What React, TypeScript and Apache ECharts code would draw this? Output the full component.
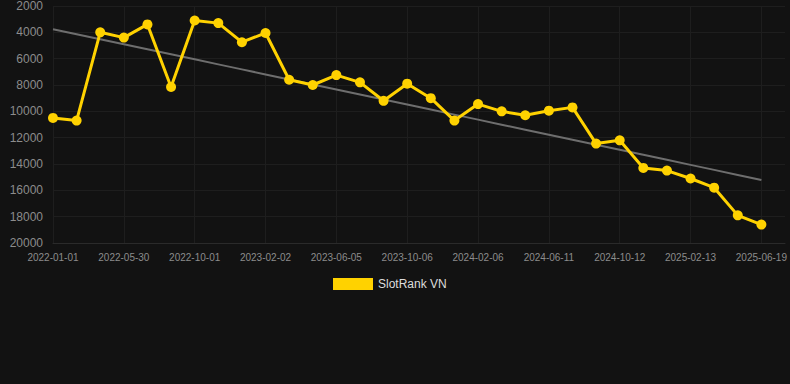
import React, { useEffect, useRef } from "react";
import * as echarts from "echarts";

const categories: string[] = [
  "2022-01-01", "2022-02-19", "2022-04-10", "2022-05-30", "2022-07-11", "2022-08-21",
  "2022-10-01", "2022-11-11", "2022-12-23", "2023-02-02", "2023-03-15", "2023-04-25",
  "2023-06-05", "2023-07-16", "2023-08-26", "2023-10-06", "2023-11-16", "2023-12-27",
  "2024-02-06", "2024-03-18", "2024-04-30", "2024-06-11", "2024-07-22", "2024-09-01",
  "2024-10-12", "2024-11-22", "2025-01-02", "2025-02-13", "2025-03-26", "2025-05-08",
  "2025-06-19",
];

const rankValues: number[] = [
  10500, 10700, 4000, 4400, 3400, 8150, 3100, 3300, 4750, 4050,
  7600, 8000, 7250, 7800, 9200, 7900, 9000, 10700, 9450, 10000,
  10300, 9950, 9700, 12450, 12200, 14300, 14500, 15100, 15800, 17900,
  18600,
];

const seriesName = "SlotRank VN";

function trendLine(values: number[]): (number | null)[] {
  const n = values.length;
  let sx = 0, sy = 0, sxy = 0, sxx = 0;
  values.forEach((v, i) => {
    sx += i; sy += v; sxy += i * v; sxx += i * i;
  });
  const slope = (n * sxy - sx * sy) / (n * sxx - sx * sx);
  const intercept = (sy - slope * sx) / n;
  return values.map((_, i) => intercept + slope * i);
}

export default function App() {
  const ref = useRef<HTMLDivElement>(null);
  useEffect(() => {
    if (!ref.current) return;
    const chart = echarts.init(ref.current, null, { renderer: "svg" });
    const trend = trendLine(rankValues);
    chart.setOption({
      animation: false,
      backgroundColor: "#121212",
      grid: { left: 53, right: 5, top: 6, bottom: 141, containLabel: false },
      legend: {
        data: [{ name: seriesName, icon: "rect" }],
        top: 273,
        left: 328,
        itemWidth: 40,
        itemHeight: 12,
        itemGap: 10,
        textStyle: { color: "#dddddd", fontSize: 12, fontFamily: "Liberation Sans, Arial, sans-serif" },
      },
      xAxis: {
        type: "category",
        data: categories,
        boundaryGap: false,
        max: 31,
        axisLine: { show: true, lineStyle: { color: "#2a2a2a" } },
        axisTick: { show: false },
        axisLabel: {
          interval: 2,
          color: "#8c8c8c",
          fontSize: 10,
          margin: 9,
          fontFamily: "Liberation Sans, Arial, sans-serif",
        },
        splitLine: { show: true, interval: 2, lineStyle: { color: "#1e1e1e" } },
      },
      yAxis: {
        type: "value",
        inverse: true,
        min: 2000,
        max: 20000,
        interval: 2000,
        axisLine: { show: false },
        axisTick: { show: false },
        axisLabel: {
          color: "#8c8c8c",
          fontSize: 12,
          margin: 10,
          formatter: (v: number) => String(v),
          fontFamily: "Liberation Sans, Arial, sans-serif",
        },
        splitLine: { show: true, lineStyle: { color: "#1e1e1e" } },
      },
      series: [
        {
          name: seriesName,
          type: "line",
          data: rankValues,
          color: "#ffd200",
          symbol: "circle",
          symbolSize: 10,
          lineStyle: { width: 3, color: "#ffd200" },
          itemStyle: { color: "#ffd200" },
          z: 3,
        },
        {
          name: "trend",
          type: "line",
          data: trend,
          symbol: "none",
          lineStyle: { width: 2, color: "#6e6e6e" },
          z: 2,
          silent: true,
        },
      ],
    });
    return () => chart.dispose();
  }, []);
  return (
    <div
      ref={ref}
      style={{ position: "absolute", left: 0, top: 0, width: 790, height: 384 }}
    />
  );
}
